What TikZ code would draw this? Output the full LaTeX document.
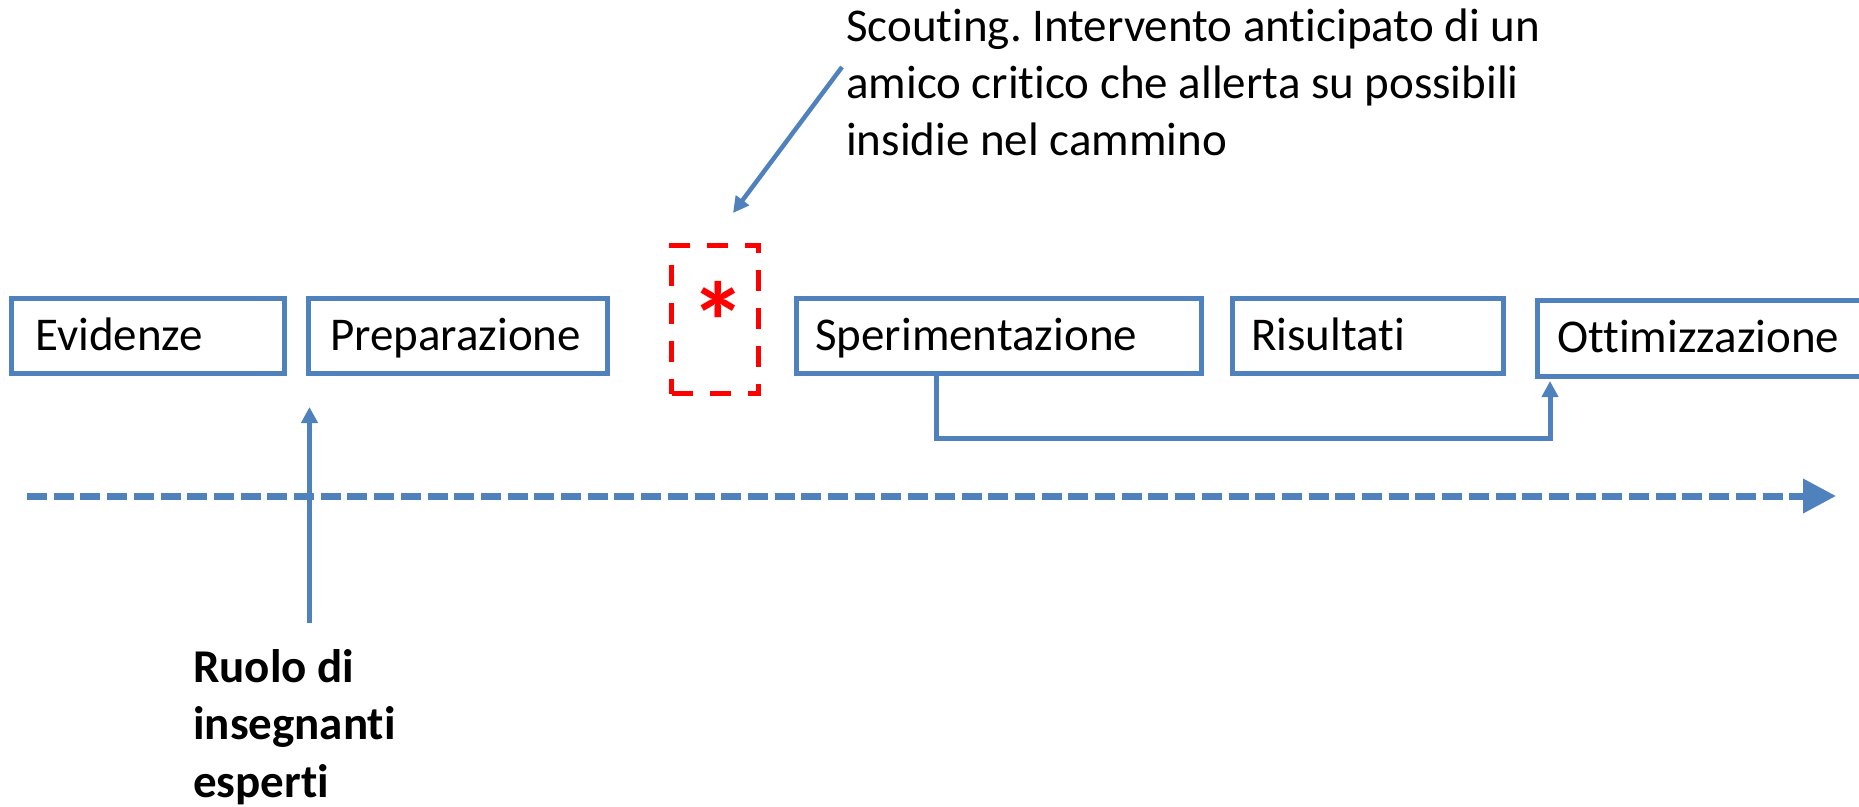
\documentclass[tikz,border=0pt]{standalone}
\usepackage{fontspec}
\setmainfont{Carlito}[Ligatures={NoCommon}]
\frenchspacing
\usetikzlibrary{arrows.meta}
\definecolor{accent}{RGB}{79,129,189}
\definecolor{alert}{RGB}{255,0,0}
\tikzset{
  stagebox/.style={draw=accent, line width=5pt, inner sep=0pt, minimum height=75pt},
  stagetext/.style={inner sep=0pt, anchor=base west, font=\fontsize{47}{56.7}\selectfont},
  flow/.style={draw=accent, line width=5pt, -{Triangle[length=16pt,width=16pt]}},
  timeline/.style={draw=accent, line width=7pt, dash pattern=on 20pt off 6.7pt, -{Triangle[length=33pt,width=33pt]}},
  pending/.style={draw=alert, line width=5pt, dash pattern=on 21pt off 17pt, inner sep=0pt},
}
\begin{document}
\begin{tikzpicture}[x=1pt,y=-1pt]
\useasboundingbox (0,0) rectangle (1859,806);
\clip (0,0) rectangle (1859,806);

% stages of the path
\node[stagebox, minimum width=273pt] (ev) at (147.5,335.5) {};
\node[stagebox, minimum width=299pt] (pr) at (457.5,335.5) {};
\node[stagebox, minimum width=405pt] (sp) at (998.5,335.5) {};
\node[stagebox, minimum width=271pt] (ri) at (1367.5,335.5) {};
\node[stagebox, minimum width=327.5pt, minimum height=76pt] (ot) at (1701.25,338) {};

\node[stagetext] (evT) at (35,350) {Evidenze};
\node[stagetext] (prT) at (330,350) {Preparazione};
\node[stagetext] (spT) at (815,350) {Sperimentazione};
\node[stagetext] (riT) at (1251,350) {Risultati};
\node[stagetext] (otT) at (1557,352) {Ottimizzazione};

% scouting step
\node[pending, minimum width=87pt, minimum height=148.5pt] (sc) at (715,319.25) {};
\node[inner sep=0pt, anchor=base, text=alert, font=\fontsize{112}{112}\selectfont\bfseries] (ast) at (718,361) {*};

% multi-line texts: the base anchor sits on the last line
\node[stagetext, align=left] (scT) at (846,155) {Scouting. Intervento anticipato di un\\amico critico che allerta su possibili\\insidie nel cammino};
\coordinate (scFoot) at (842,67);
\coordinate (scHead) at (733,213);
\draw[flow, line width=4.5pt] (scFoot) -- (scHead);

% time axis
\coordinate (tlStart) at (27,496);
\coordinate (tlEnd) at (1836,496);
\draw[timeline] (tlStart) -- (tlEnd);

% experts
\node[stagetext, align=left, font=\fontsize{47}{57.5}\selectfont\bfseries] (exT) at (193,797) {Ruolo di\\insegnanti\\esperti};
\coordinate (exFoot) at (309.5,623);
\coordinate (exHead) at (309.5,407);
\draw[flow] (exFoot) -- (exHead);

% feedback from experimentation to optimisation
\draw[flow] ([xshift=-62.5pt]sp.south) -- ++(0,62.5) -| ([xshift=15pt,yshift=-2.5pt]ot.south west);
\end{tikzpicture}
\end{document}
